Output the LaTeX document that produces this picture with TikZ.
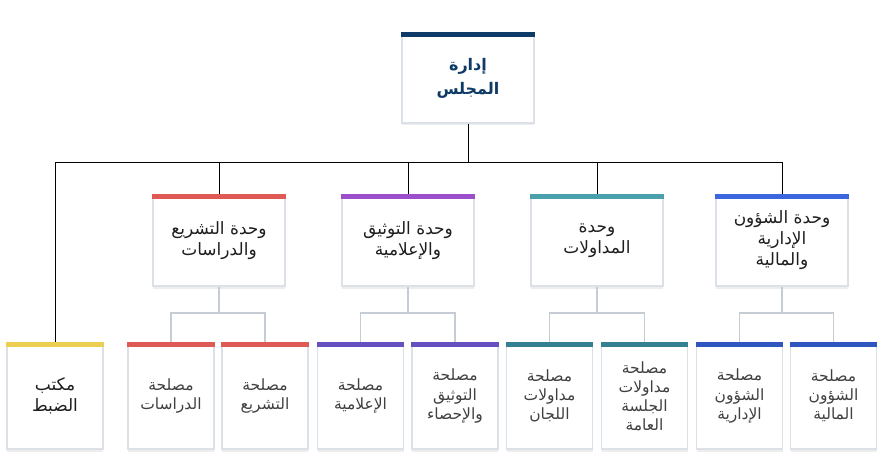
\documentclass[tikz,border=0pt]{standalone}
\usepackage{fontspec}
\newfontfamily\arabicfont[Script=Arabic]{DejaVu Sans}
\TeXXeTstate=1
\usetikzlibrary{shadows}
\definecolor{cNavy}{HTML}{0D3A66}
\definecolor{cRed}{HTML}{E05A55}
\definecolor{cPurple}{HTML}{9B4FCB}
\definecolor{cTeal}{HTML}{4AA0AB}
\definecolor{cBlue}{HTML}{3B66DD}
\definecolor{cYellow}{HTML}{ECCE50}
\definecolor{cPurpleD}{HTML}{6650C0}
\definecolor{cTealD}{HTML}{347F90}
\definecolor{cBlueD}{HTML}{2F55C0}
\definecolor{cBorder}{HTML}{DCE1E7}
\definecolor{cGray}{HTML}{C5CCD4}
\definecolor{cText}{HTML}{1E1E1E}
\definecolor{cTextL}{HTML}{404040}
\newcommand{\ar}[1]{\beginR #1\endR}
\begin{document}
\begin{tikzpicture}[x=1pt,y=-1pt,
  box/.style={draw=cBorder, line width=1.2pt, fill=white, inner sep=2pt, align=center,
    drop shadow={shadow xshift=0pt, shadow yshift=-2.5pt, fill=black, opacity=0.07}},
  topbox/.style={box, minimum width=132pt, minimum height=90pt, text=cNavy,
    font=\arabicfont\bfseries\fontsize{16}{24}\selectfont},
  unitbox/.style={box, minimum width=132pt, minimum height=91pt, text=cText,
    font=\arabicfont\fontsize{17}{21}\selectfont},
  leafbox/.style={box, minimum width=86pt, minimum height=106pt, text=cTextL,
    font=\arabicfont\fontsize{15.5}{19}\selectfont},
  mainline/.style={draw=black, line width=0.9pt},
  subline/.style={draw=cGray, line width=1.2pt}]
\useasboundingbox (0,0) rectangle (885,465);
\fill[white] (0,0) rectangle (885,465);

% top
\node[topbox] (top) at (468,78) {\ar{إدارة}\\\ar{المجلس}};

% units
\node[unitbox] (ua) at (219,240.5) {\ar{وحدة التشريع}\\\ar{والدراسات}};
\node[unitbox] (ub) at (408,240.5) {\ar{وحدة التوثيق}\\\ar{والإعلامية}};
\node[unitbox] (uc) at (597,240.5) {\ar{وحدة}\\\ar{المداولات}};
\node[unitbox] (ud) at (782,240.5) {\ar{وحدة الشؤون}\\\ar{الإدارية}\\\ar{والمالية}};

% leaves
\node[leafbox, minimum width=96pt, text=cText, font=\arabicfont\fontsize{17}{21}\selectfont] (dabt) at (55,396) {\ar{مكتب}\\\ar{الضبط}};
\node[leafbox] (dir) at (171,396) {\ar{مصلحة}\\\ar{الدراسات}};
\node[leafbox] (tash) at (265,396) {\ar{مصلحة}\\\ar{التشريع}};
\node[leafbox] (ilam) at (360.5,396) {\ar{مصلحة}\\\ar{الإعلامية}};
\node[leafbox] (tawt) at (455,396) {\ar{مصلحة}\\\ar{التوثيق}\\\ar{والإحصاء}};
\node[leafbox] (lij) at (549.5,396) {\ar{مصلحة}\\\ar{مداولات}\\\ar{اللجان}};
\node[leafbox] (jal) at (644.5,396) {\ar{مصلحة}\\\ar{مداولات}\\\ar{الجلسة}\\\ar{العامة}};
\node[leafbox] (idr) at (739.5,396) {\ar{مصلحة}\\\ar{الشؤون}\\\ar{الإدارية}};
\node[leafbox] (mal) at (833.5,396) {\ar{مصلحة}\\\ar{الشؤون}\\\ar{المالية}};

% coloured bars
\foreach \n/\c in {top/cNavy, ua/cRed, ub/cPurple, uc/cTeal, ud/cBlue,
  dabt/cYellow, dir/cRed, tash/cRed, ilam/cPurpleD, tawt/cPurpleD,
  lij/cTealD, jal/cTealD, idr/cBlueD, mal/cBlueD}
  \fill[\c] (\n.north west) rectangle ([yshift=-5pt]\n.north east);

% main connectors
\coordinate (bus) at (468,162);
\draw[mainline] (top.south) -- (top.south |- bus);
\foreach \n in {dabt,ua,ub,uc,ud}
  \draw[mainline] (top.south |- bus) -| (\n.north);

% sub connectors
\coordinate (gbus) at (0,313);
\foreach \p/\ch in {ua/dir, ua/tash, ub/ilam, ub/tawt, uc/lij, uc/jal, ud/idr, ud/mal}
  \draw[subline] (\p.south) -- (\p.south |- gbus) -| (\ch.north);
\end{tikzpicture}
\end{document}
